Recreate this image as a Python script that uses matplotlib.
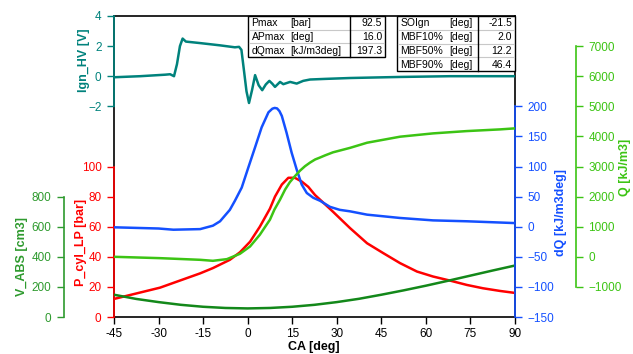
import matplotlib
matplotlib.use('Agg')
import matplotlib.pyplot as plt
from matplotlib.patches import Rectangle
from matplotlib.lines import Line2D

plt.rcParams['font.family'] = ['Liberation Sans', 'DejaVu Sans']

# ---------------- data ----------------
ca_ticks = [-45, -30, -15, 0, 15, 30, 45, 60, 75, 90]

ca_ign = [-45, -36.2, -27.8, -26.1, -24.8, -23.8, -22.8, -21.9, -20.8, -16.0, -9.3, -4.3,
          -2.9, -2.1, -1.2, -0.4, 0.45, 1.5, 2.5, 3.7, 4.9, 6.1, 7.3, 8.3, 9.2, 10.9,
          12.0, 14.3, 16.5, 18.7, 21.0, 26.0, 34.5, 51.3, 68.1, 90]
ign_hv = [-0.07, 0.0, 0.1, 0.13, 0.0, 0.8, 2.0, 2.5, 2.3, 2.2, 2.05, 1.92,
          1.95, 1.75, 0.3, -1.0, -1.78, -0.9, 0.07, -0.6, -0.93, -0.55, -0.31, -0.5, -0.71, -0.38,
          -0.53, -0.38, -0.49, -0.31, -0.22, -0.18, -0.12, -0.05, 0.0, 0.0]

ca_p = [-45, -29.5, -16, -11.7, -6, -2.6, 0.8, 4.1, 7.5, 9.2, 11.5, 13.7, 15.9, 18.2, 20.4,
        22.7, 24.9, 28.7, 34.5, 40.2, 45.6, 51.3, 57, 62.4, 68.1, 73.8, 79.2, 85, 90]
p_cyl = [12, 19.5, 29, 32.5, 38, 43, 50, 60, 72, 80, 88, 92.5, 92.5, 90, 86.5,
         81, 77, 70, 59, 49, 42.5, 35.8, 30.2, 26.9, 24.2, 21.3, 19.1, 17.3, 16]

ca_dq = [-45, -30, -25, -16, -11.7, -9.3, -6, -4.3, -2.0, 0.2, 2.5, 4.7, 7.0, 8.3, 9.1, 9.9,
         10.7, 11.5, 13.1, 14.8, 16.5, 18.2, 19.9, 22.1, 24.4, 27.7, 31, 34.5, 40.2, 51.3,
         62.4, 73.8, 90]
dq = [-1, -3, -5, -4, 1.7, 9, 28, 43, 65, 98, 132, 165, 190, 196, 197.3, 196.5,
      192, 184, 156, 123, 95, 70, 56, 48, 43, 33, 28, 25.5, 20, 14.5,
      10.5, 9, 6]

ca_q = [-45, -29.5, -16, -11.7, -7, -2.6, 0.8, 4.1, 7.5, 9.0, 10.9, 12.6, 14.2, 15.9, 17.6,
        19.3, 21, 22.7, 24.4, 26.0, 28.7, 34.5, 40.2, 51.3, 62.4, 73.8, 85, 90]
q = [0, -45, -100, -133, -78, 100, 343, 733, 1233, 1567, 1900, 2233, 2480, 2677, 2860,
     3010, 3130, 3233, 3300, 3367, 3470, 3620, 3790, 3990, 4100, 4177, 4233, 4267]

ca_v = [-45, -37.5, -30, -22.5, -15, -7.5, 0, 7.5, 15, 22.5, 30, 37.5, 45, 52.5, 60,
        67.5, 75, 82.5, 90]
v_abs = [148, 120, 99, 81, 68, 60, 57, 60, 68, 81, 99, 121, 148, 177, 208,
         241, 275, 309, 342]

table1_names = ["Pmax", "APmax", "dQmax"]
table1_units = ["[bar]", "[deg]", "[kJ/m3deg]"]
table1_vals = ["92.5", "16.0", "197.3"]
table2_names = ["SOIgn", "MBF10%", "MBF50%", "MBF90%"]
table2_units = ["[deg]", "[deg]", "[deg]", "[deg]"]
table2_vals = ["-21.5", "2.0", "12.2", "46.4"]

# ---------------- figure ----------------
W, H = 633, 354
fig = plt.figure(figsize=(W / 100, H / 100), dpi=100)
L, R, B, T = 114, 515, 317, 16
ax = fig.add_axes([L / W, 1 - B / H, (R - L) / W, (B - T) / H])
ax.set_xlim(-45, 90)
ax.set_ylim(0, 1)
ax.set_yticks([])
ax.set_xticks(ca_ticks)
ax.set_xticklabels([str(t) for t in ca_ticks])
ax.tick_params(axis='x', direction='out', length=5, width=1, labelsize=8.5, pad=3)
for s in ax.spines.values():
    s.set_color('black')
    s.set_linewidth(1.2)

C_IGN = '#00827c'
C_P = '#ff0000'
C_DQ = '#1450ff'
C_Q = '#3cc414'
C_V = '#13881a'
C_VAX = '#2e9a2e'


def make_axis(ylim, bounds, ticks, color, side, pos):
    a = ax.twinx()
    a.set_ylim(*ylim)
    for s in a.spines.values():
        s.set_visible(False)
    sp = a.spines[side]
    sp.set_visible(True)
    sp.set_color(color)
    sp.set_linewidth(1.2)
    sp.set_bounds(*bounds)
    sp.set_position(('axes', pos))
    a.yaxis.set_ticks_position(side)
    a.set_yticks(ticks)
    a.tick_params(axis='y', colors=color, direction='out', length=5, width=1,
                  labelsize=8.5, pad=4)
    return a


a_ign = make_axis((-16, 4), (-2, 4), [-2, 0, 2, 4], C_IGN, 'left', 0.0)
a_p = make_axis((0, 200), (0, 100), [0, 20, 40, 60, 80, 100], C_P, 'left', 0.0)
a_v = make_axis((0, 2000), (0, 800), [0, 200, 400, 600, 800], C_VAX, 'left', (64 - L) / (R - L))
a_dq = make_axis((-150, 350), (-150, 200), [-150, -100, -50, 0, 50, 100, 150, 200], C_DQ, 'right', 1.0)
a_q = make_axis((-2000, 8000), (-1000, 7000), list(range(-1000, 7001, 1000)), C_Q, 'right', (576 - L) / (R - L))

lw = 1.8
kw = dict(lw=lw, solid_joinstyle='round', solid_capstyle='round')
a_v.plot(ca_v, v_abs, color=C_V, **kw)
a_q.plot(ca_q, q, color=C_Q, **kw)
a_p.plot(ca_p, p_cyl, color=C_P, **kw)
a_dq.plot(ca_dq, dq, color=C_DQ, **kw)
a_ign.plot(ca_ign, ign_hv, color=C_IGN, **kw)
for a in (a_ign, a_p, a_v, a_dq, a_q):
    a.set_xlim(-45, 90)


def ftxt(x, y, s, **kw):
    fig.text(x / W, 1 - y / H, s, **kw)


lab = dict(rotation=90, ha='center', va='center', fontsize=9, fontweight='bold')
ftxt(84, 60, "Ign_HV [V]", color=C_IGN, **lab)
ftxt(81, 242, "P_cyl_LP [bar]", color=C_P, **lab)
ftxt(22, 257, "V_ABS [cm3]", color=C_VAX, **lab)
ftxt(561, 212, "dQ [kJ/m3deg]", color=C_DQ, **lab)
ftxt(625, 167, "Q [kJ/m3]", color=C_Q, **lab)
ftxt(314, 347, "CA [deg]", ha='center', va='center', fontsize=9, fontweight='bold')


# ---------------- tables ----------------
def draw_table(x0, x1, xdiv, y0, y1, names, units, vals, xunit):
    n = len(names)
    rh = (y1 - y0) / n
    fig.patches.append(Rectangle((x0 / W, 1 - y1 / H), (x1 - x0) / W, (y1 - y0) / H,
                                 transform=fig.transFigure, facecolor='white',
                                 edgecolor='black', lw=1.0, zorder=10))
    for i in range(1, n):
        yy = 1 - (y0 + i * rh) / H
        fig.lines.append(Line2D([x0 / W + 0.001, x1 / W - 0.001], [yy, yy], transform=fig.transFigure,
                                color='#c8c8c8', lw=0.8, zorder=11))
    fig.lines.append(Line2D([xdiv / W, xdiv / W], [1 - y0 / H, 1 - y1 / H],
                            transform=fig.transFigure, color='black', lw=1.0, zorder=12))
    for i in range(n):
        yc = y0 + (i + 0.5) * rh + 0.5
        ftxt(x0 + 3.5, yc, names[i], ha='left', va='center', fontsize=7.5, zorder=13)
        ftxt(xunit, yc, units[i], ha='left', va='center', fontsize=7.5, zorder=13)
        ftxt(x1 - 3, yc, vals[i], ha='right', va='center', fontsize=7.5, zorder=13)


draw_table(248, 385, 350, 16, 57, table1_names, table1_units, table1_vals, 290)
draw_table(397, 515, 478, 16, 71, table2_names, table2_units, table2_vals, 449)

fig.savefig('out.png', dpi=100, facecolor='white')
